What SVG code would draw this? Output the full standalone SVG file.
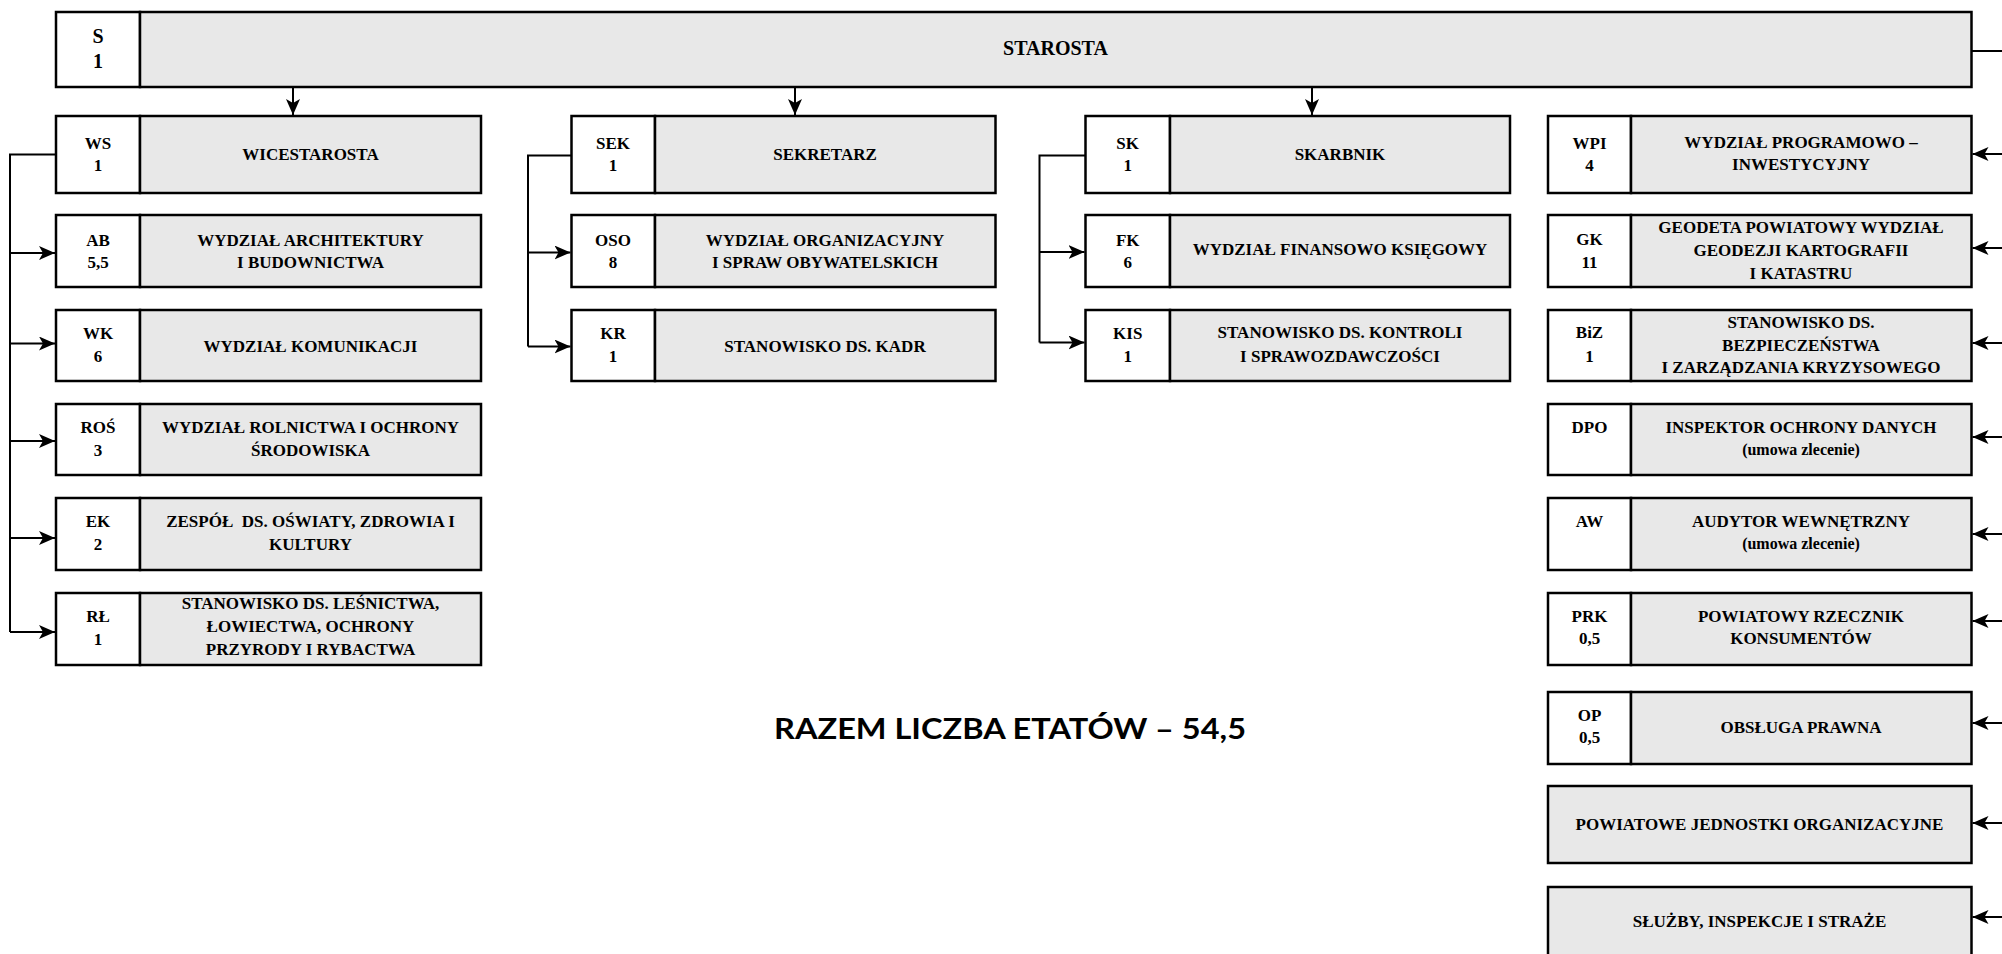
<svg xmlns="http://www.w3.org/2000/svg" width="2002" height="954" viewBox="0 0 2002 954">
<style>
.bx{fill:#e8e8e8;stroke:#000;stroke-width:2.5}
.cd{fill:#fff;stroke:#000;stroke-width:2.5}
text{font-family:"Liberation Serif","Times New Roman",serif;font-weight:bold;font-size:17px;fill:#000;text-anchor:middle}
.sm{font-size:16px}
.lg{font-size:20px}
.ln{fill:none;stroke:#000;stroke-width:2}
.ar{fill:none;stroke:#000;stroke-width:2;marker-end:url(#ah)}
.tot{font-family:Lato,"Open Sans",sans-serif;font-size:29px;text-anchor:start}
</style>
<defs>
<marker id="ah" viewBox="0 0 16 14" refX="16" refY="7" markerWidth="16" markerHeight="14" orient="auto" markerUnits="userSpaceOnUse">
<path d="M0,0 L16,7 L0,14 L4,7 z" fill="#000"/>
</marker>
</defs>
<rect x="0" y="0" width="2002" height="954" fill="#fff"/>

<g id="connectors">
<line class="ar" x1="293" y1="87" x2="293" y2="115"/>
<line class="ar" x1="795" y1="87" x2="795" y2="115"/>
<line class="ar" x1="1312" y1="87" x2="1312" y2="115"/>
<path class="ln" d="M56,154.5 H10 V632"/>
<line class="ar" x1="10" y1="253" x2="55" y2="253"/>
<line class="ar" x1="10" y1="343.5" x2="55" y2="343.5"/>
<line class="ar" x1="10" y1="441" x2="55" y2="441"/>
<line class="ar" x1="10" y1="538" x2="55" y2="538"/>
<line class="ar" x1="10" y1="632" x2="55" y2="632"/>
<path class="ln" d="M571.5,155.5 H528 V346.5"/>
<line class="ar" x1="528" y1="252.5" x2="570.5" y2="252.5"/>
<line class="ar" x1="528" y1="346.5" x2="570.5" y2="346.5"/>
<path class="ln" d="M1085.5,155.5 H1039.5 V342.5"/>
<line class="ar" x1="1039.5" y1="252" x2="1084.5" y2="252"/>
<line class="ar" x1="1039.5" y1="342.5" x2="1084.5" y2="342.5"/>
<line class="ln" x1="1971.5" y1="51" x2="2002" y2="51"/>
<line class="ar" x1="2002" y1="154" x2="1972.5" y2="154"/>
<line class="ar" x1="2002" y1="248" x2="1972.5" y2="248"/>
<line class="ar" x1="2002" y1="343" x2="1972.5" y2="343"/>
<line class="ar" x1="2002" y1="437" x2="1972.5" y2="437"/>
<line class="ar" x1="2002" y1="534" x2="1972.5" y2="534"/>
<line class="ar" x1="2002" y1="621" x2="1972.5" y2="621"/>
<line class="ar" x1="2002" y1="723" x2="1972.5" y2="723"/>
<line class="ar" x1="2002" y1="823" x2="1972.5" y2="823"/>
<line class="ar" x1="2002" y1="917" x2="1972.5" y2="917"/>
</g>

<g id="S">
<rect class="cd" x="56" y="12" width="84" height="75"/>
<rect class="bx" x="140" y="12" width="1831.5" height="75"/>
<text class="lg" x="98" y="43">S</text><text class="lg" x="98" y="68">1</text>
<text class="lg" x="1055.5" y="55">STAROSTA</text>
</g>

<g id="WS">
<rect class="cd" x="56" y="116" width="84" height="77"/>
<rect class="bx" x="140" y="116" width="341" height="77"/>
<text x="98" y="149">WS</text><text x="98" y="171">1</text>
<text x="310.5" y="160">WICESTAROSTA</text>
</g>
<g id="AB">
<rect class="cd" x="56" y="215" width="84" height="72"/>
<rect class="bx" x="140" y="215" width="341" height="72"/>
<text x="98" y="245.7">AB</text><text x="98" y="267.7">5,5</text>
<text x="310.5" y="245.7">WYDZIAŁ ARCHITEKTURY</text><text x="310.5" y="267.7">I BUDOWNICTWA</text>
</g>
<g id="WK">
<rect class="cd" x="56" y="310" width="84" height="71"/>
<rect class="bx" x="140" y="310" width="341" height="71"/>
<text x="98" y="339">WK</text><text x="98" y="361.5">6</text>
<text x="310.5" y="351.5">WYDZIAŁ KOMUNIKACJI</text>
</g>
<g id="ROS">
<rect class="cd" x="56" y="404" width="84" height="71"/>
<rect class="bx" x="140" y="404" width="341" height="71"/>
<text x="98" y="433.3">ROŚ</text><text x="98" y="456">3</text>
<text x="310.5" y="433.3">WYDZIAŁ ROLNICTWA I OCHRONY</text><text x="310.5" y="456">ŚRODOWISKA</text>
</g>
<g id="EK">
<rect class="cd" x="56" y="498" width="84" height="72"/>
<rect class="bx" x="140" y="498" width="341" height="72"/>
<text x="98" y="527.3">EK</text><text x="98" y="550">2</text>
<text x="310.5" y="527.3" xml:space="preserve">ZESPÓŁ  DS. OŚWIATY, ZDROWIA I</text><text x="310.5" y="550">KULTURY</text>
</g>
<g id="RL">
<rect class="cd" x="56" y="593" width="84" height="72"/>
<rect class="bx" x="140" y="593" width="341" height="72"/>
<text x="98" y="622.3">RŁ</text><text x="98" y="645">1</text>
<text x="310.5" y="609.3">STANOWISKO DS. LEŚNICTWA,</text><text x="310.5" y="632.3">ŁOWIECTWA, OCHRONY</text><text x="310.5" y="655.3">PRZYRODY I RYBACTWA</text>
</g>

<g id="SEK">
<rect class="cd" x="571.5" y="116" width="83.5" height="77"/>
<rect class="bx" x="655" y="116" width="340.5" height="77"/>
<text x="613" y="149">SEK</text><text x="613" y="171">1</text>
<text x="825" y="160">SEKRETARZ</text>
</g>
<g id="OSO">
<rect class="cd" x="571.5" y="215" width="83.5" height="72"/>
<rect class="bx" x="655" y="215" width="340.5" height="72"/>
<text x="613" y="245.7">OSO</text><text x="613" y="267.7">8</text>
<text x="825" y="245.7">WYDZIAŁ ORGANIZACYJNY</text><text x="825" y="267.7">I SPRAW OBYWATELSKICH</text>
</g>
<g id="KR">
<rect class="cd" x="571.5" y="310" width="83.5" height="71"/>
<rect class="bx" x="655" y="310" width="340.5" height="71"/>
<text x="613" y="339">KR</text><text x="613" y="361.5">1</text>
<text x="825" y="351.5">STANOWISKO DS. KADR</text>
</g>

<g id="SK">
<rect class="cd" x="1085.5" y="116" width="84.5" height="77"/>
<rect class="bx" x="1170" y="116" width="340" height="77"/>
<text x="1127.7" y="149">SK</text><text x="1127.7" y="171">1</text>
<text x="1340" y="160">SKARBNIK</text>
</g>
<g id="FK">
<rect class="cd" x="1085.5" y="215" width="84.5" height="72"/>
<rect class="bx" x="1170" y="215" width="340" height="72"/>
<text x="1127.7" y="245.7">FK</text><text x="1127.7" y="267.7">6</text>
<text x="1340" y="255">WYDZIAŁ FINANSOWO KSIĘGOWY</text>
</g>
<g id="KIS">
<rect class="cd" x="1085.5" y="310" width="84.5" height="71"/>
<rect class="bx" x="1170" y="310" width="340" height="71"/>
<text x="1127.7" y="339">KIS</text><text x="1127.7" y="361.5">1</text>
<text x="1340" y="338.3">STANOWISKO DS. KONTROLI</text><text x="1340" y="361.7">I SPRAWOZDAWCZOŚCI</text>
</g>

<g id="WPI">
<rect class="cd" x="1548" y="116" width="83" height="77"/>
<rect class="bx" x="1631" y="116" width="340.5" height="77"/>
<text x="1589.5" y="149">WPI</text><text x="1589.5" y="171">4</text>
<text x="1801" y="148.3">WYDZIAŁ PROGRAMOWO –</text><text x="1801" y="170">INWESTYCYJNY</text>
</g>
<g id="GK">
<rect class="cd" x="1548" y="215" width="83" height="72"/>
<rect class="bx" x="1631" y="215" width="340.5" height="72"/>
<text x="1589.5" y="245">GK</text><text x="1589.5" y="268">11</text>
<text x="1801" y="233.3">GEODETA POWIATOWY WYDZIAŁ</text><text x="1801" y="256">GEODEZJI KARTOGRAFII</text><text x="1801" y="279">I KATASTRU</text>
</g>
<g id="BiZ">
<rect class="cd" x="1548" y="310" width="83" height="71"/>
<rect class="bx" x="1631" y="310" width="340.5" height="71"/>
<text x="1589.5" y="338.3">BiZ</text><text x="1589.5" y="361.7">1</text>
<text x="1801" y="328.3">STANOWISKO DS.</text><text x="1801" y="350.7">BEZPIECZEŃSTWA</text><text x="1801" y="372.7">I ZARZĄDZANIA KRYZYSOWEGO</text>
</g>
<g id="DPO">
<rect class="cd" x="1548" y="404" width="83" height="71"/>
<rect class="bx" x="1631" y="404" width="340.5" height="71"/>
<text x="1589.5" y="433.3">DPO</text>
<text x="1801" y="433.3">INSPEKTOR OCHRONY DANYCH</text><text class="sm" x="1801" y="455">(umowa zlecenie)</text>
</g>
<g id="AW">
<rect class="cd" x="1548" y="498" width="83" height="72"/>
<rect class="bx" x="1631" y="498" width="340.5" height="72"/>
<text x="1589.5" y="526.7">AW</text>
<text x="1801" y="526.7">AUDYTOR WEWNĘTRZNY</text><text class="sm" x="1801" y="548.5">(umowa zlecenie)</text>
</g>
<g id="PRK">
<rect class="cd" x="1548" y="593" width="83" height="72"/>
<rect class="bx" x="1631" y="593" width="340.5" height="72"/>
<text x="1589.5" y="621.7">PRK</text><text x="1589.5" y="643.5">0,5</text>
<text x="1801" y="621.7">POWIATOWY RZECZNIK</text><text x="1801" y="644">KONSUMENTÓW</text>
</g>
<g id="OP">
<rect class="cd" x="1548" y="692" width="83" height="72"/>
<rect class="bx" x="1631" y="692" width="340.5" height="72"/>
<text x="1589.5" y="721">OP</text><text x="1589.5" y="743.3">0,5</text>
<text x="1801" y="732.7">OBSŁUGA PRAWNA</text>
</g>
<g id="PJO">
<rect class="bx" x="1548" y="786" width="423.5" height="77"/>
<text x="1759.5" y="830">POWIATOWE JEDNOSTKI ORGANIZACYJNE</text>
</g>
<g id="SIS">
<rect class="bx" x="1548" y="887" width="423.5" height="90"/>
<text x="1759.5" y="926.7">SŁUŻBY, INSPEKCJE I STRAŻE</text>
</g>

<g id="total">
<text class="tot" x="774" y="739.3" font-weight="bold" textLength="472" lengthAdjust="spacingAndGlyphs">RAZEM LICZBA ETATÓW – 54,5</text>
</g>
</svg>
